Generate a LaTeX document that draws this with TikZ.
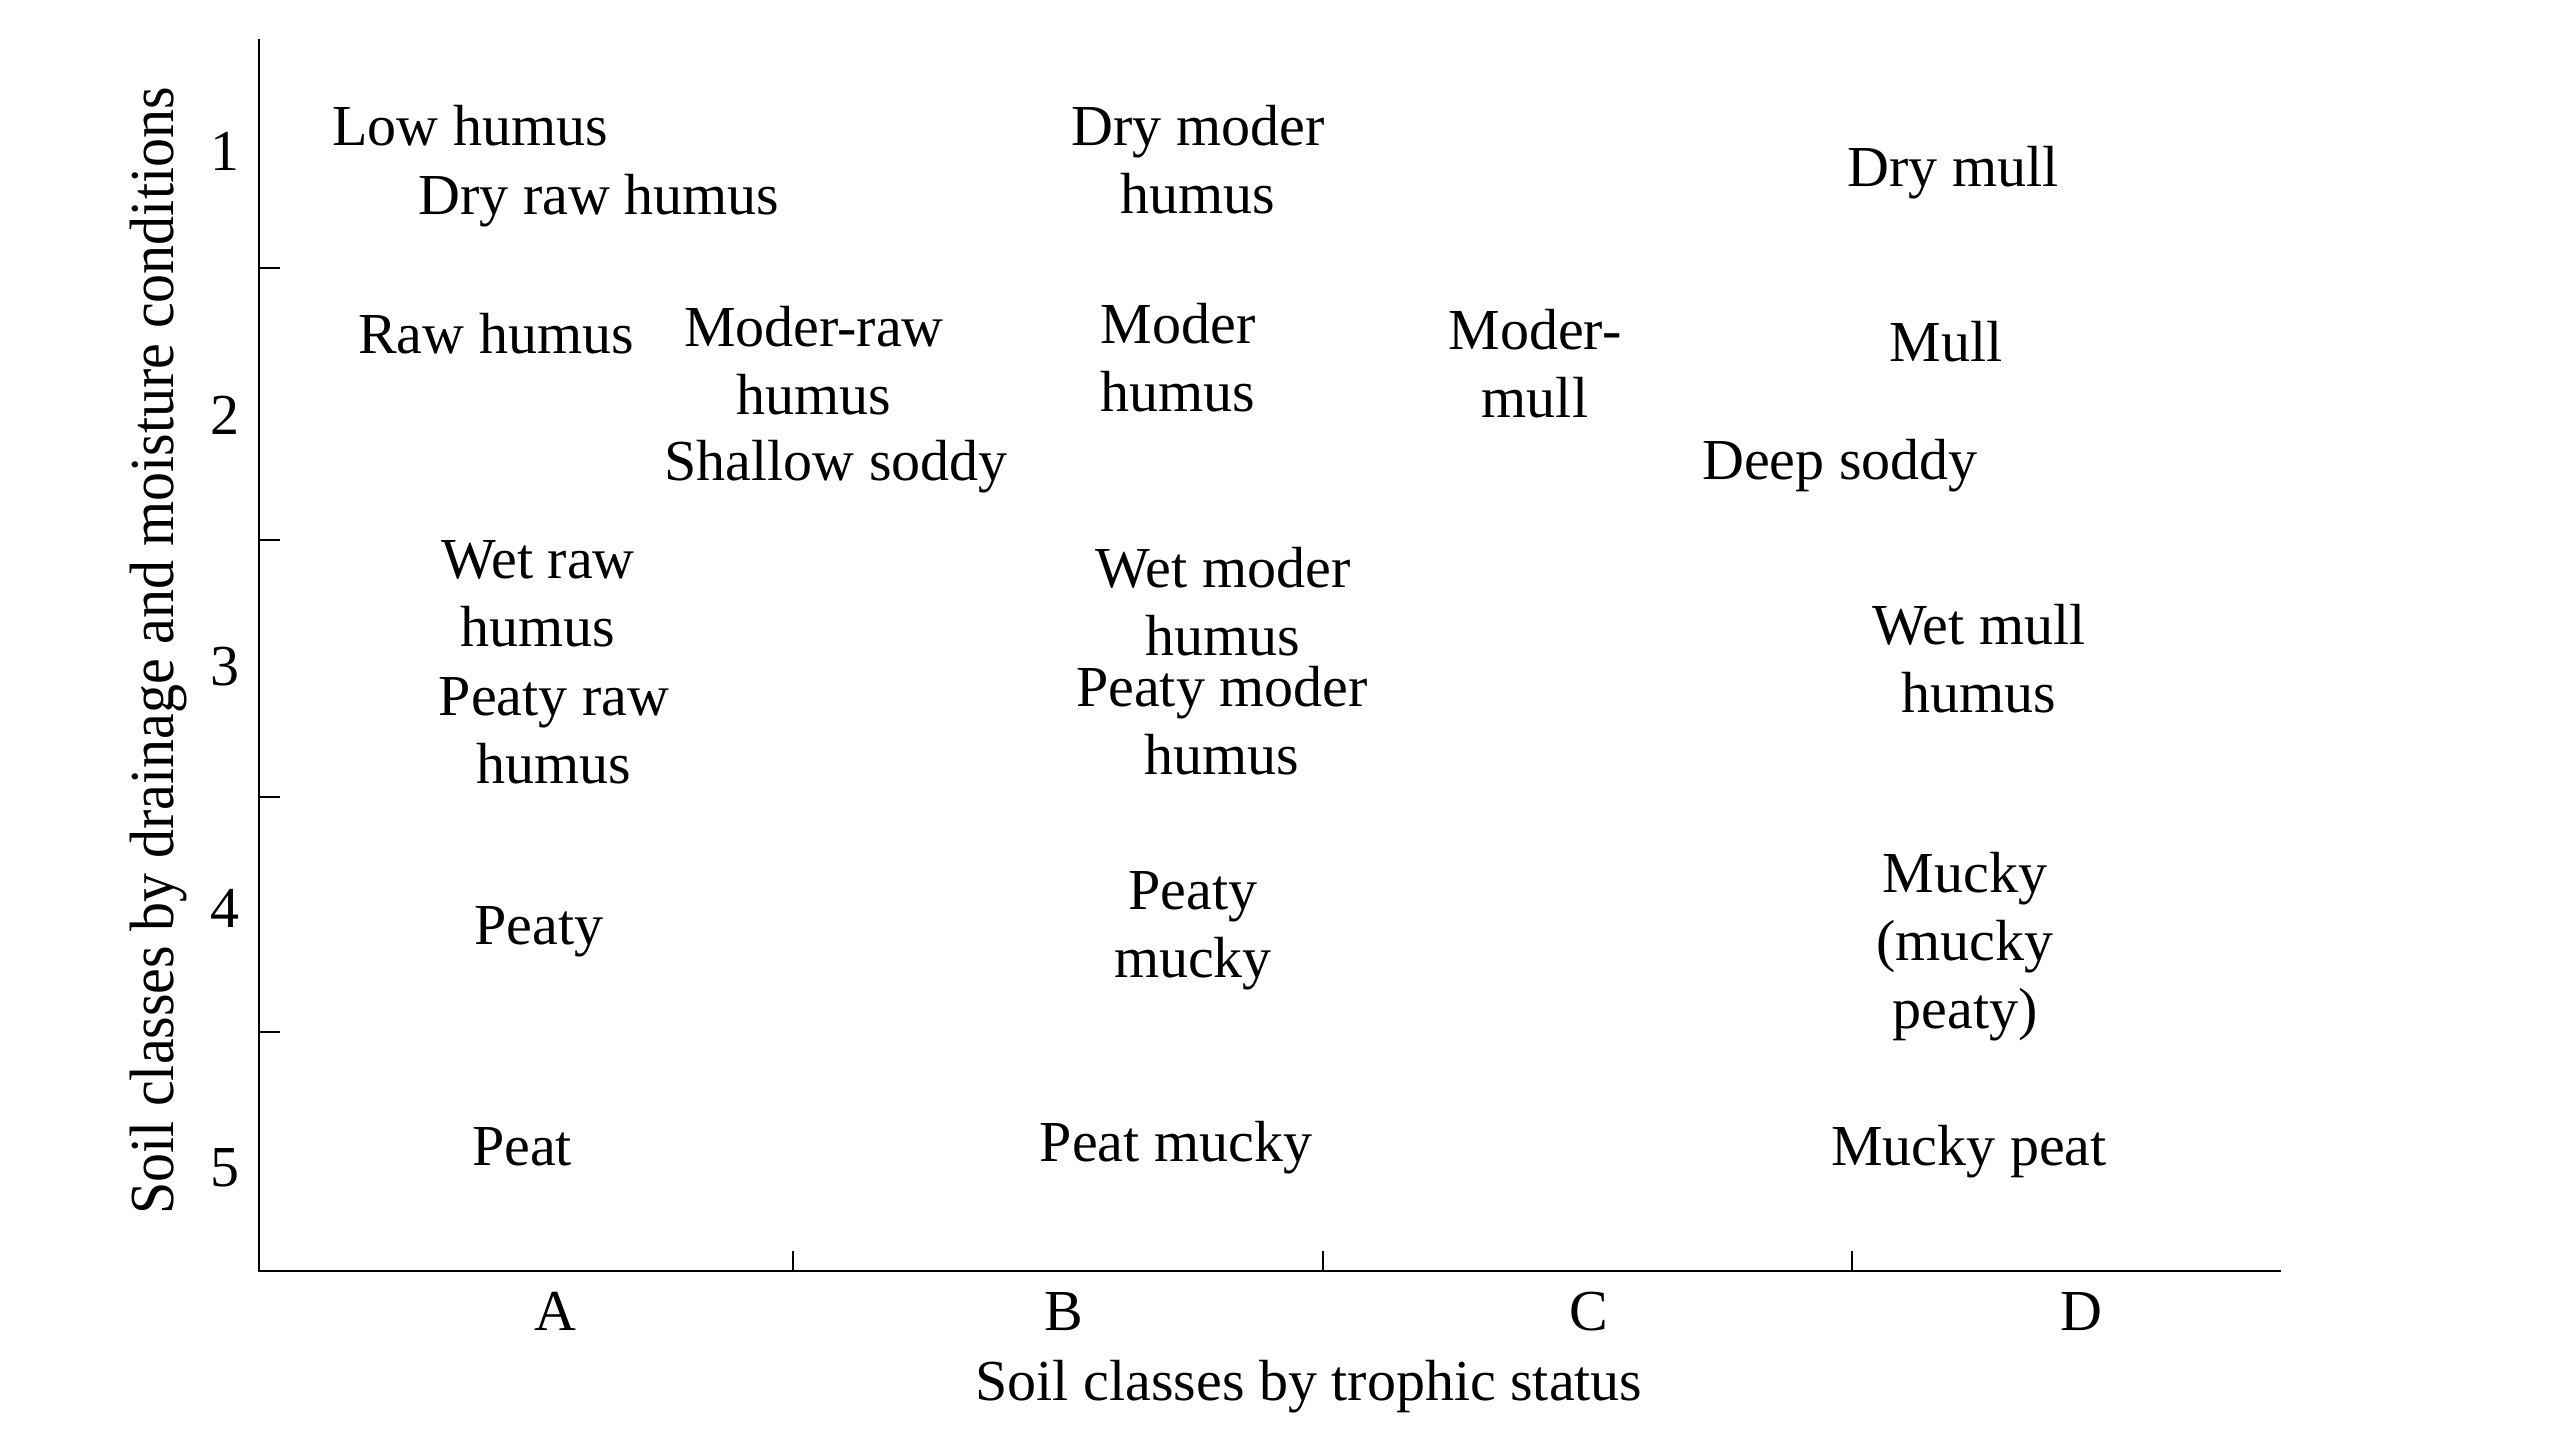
\documentclass[tikz,border=0pt]{standalone}
\usepackage{fontspec}
\setmainfont{Liberation Serif}
\newcommand\lab[1]{\begin{tabular}[t]{@{}c@{}}#1\end{tabular}}
\tikzset{
  lbl/.style={inner sep=0pt, anchor=base, font=\fontsize{58}{68}\selectfont},
  axisline/.style={line width=2.5pt, black},
  tick/.style={line width=2.2pt, black}
}
\begin{document}
\begin{tikzpicture}[x=1pt,y=-1pt]
\useasboundingbox (0,0) rectangle (2560,1455);
% axes
\coordinate (top) at (259,39);
\coordinate (O) at (259,1271);
\coordinate (right) at (2281,1271);
\draw[axisline] (top) -- (O) -- (right);
% y ticks
\foreach \yy in {268,540,797,1032} \draw[tick] (259,\yy) -- (280,\yy);
% x ticks
\foreach \xx in {793,1323,1852} \draw[tick] (\xx,1271) -- (\xx,1251);
% y numbers
\node[lbl] (y1) at (225,171) {1};
\node[lbl] (y2) at (225,434) {2};
\node[lbl] (y3) at (225,685) {3};
\node[lbl] (y4) at (225,927) {4};
\node[lbl] (y5) at (225,1186) {5};
% x letters
\node[lbl] (xA) at (555,1330) {A};
\node[lbl] (xB) at (1064,1330) {B};
\node[lbl] (xC) at (1589,1330) {C};
\node[lbl] (xD) at (2081,1330) {D};
% axis titles
\node[lbl] (xtitle) at (1309,1400) {Soil classes by trophic status};
\node[lbl, rotate=90] (ytitle) at (173,651) {\scalebox{1}[1.08]{Soil classes by drainage and moisture conditions}};
% row 1
\node[lbl] (lowhumus) at (470,146) {Low humus};
\node[lbl] (dryraw) at (599,215) {Dry raw humus};
\node[lbl] (drymoder) at (1198,146) {\lab{Dry moder\\humus}};
\node[lbl] (drymull) at (1953,187) {Dry mull};
% row 2
\node[lbl] (rawhumus) at (496,353) {Raw humus};
\node[lbl] (moderraw) at (814,346) {\lab{Moder-raw\\humus}};
\node[lbl] (shallow) at (836,480) {Shallow soddy};
\node[lbl] (moder) at (1178,344) {\lab{Moder\\humus}};
\node[lbl] (modermull) at (1535,349) {\lab{Moder-\\mull}};
\node[lbl] (mull) at (1946,361) {Mull};
\node[lbl] (deep) at (1840,479) {Deep soddy};
% row 3
\node[lbl] (wetraw) at (538,578) {\lab{Wet raw\\humus}};
\node[lbl] (peatyraw) at (554,715) {\lab{Peaty raw\\humus}};
\node[lbl] (wetmoder) at (1223,587) {\lab{Wet moder\\humus}};
\node[lbl] (peatymoder) at (1222,706) {\lab{Peaty moder\\humus}};
\node[lbl] (wetmull) at (1979,644) {\lab{Wet mull\\humus}};
% row 4
\node[lbl] (peatyA) at (539,944) {Peaty};
\node[lbl] (peatymucky) at (1193,909) {\lab{Peaty\\mucky}};
\node[lbl] (mucky) at (1965,892) {\lab{Mucky\\(mucky\\peaty)}};
% row 5
\node[lbl] (peat) at (522,1165) {Peat};
\node[lbl] (peatmucky) at (1176,1161) {Peat mucky};
\node[lbl] (muckypeat) at (1969,1165) {Mucky peat};
\end{tikzpicture}
\end{document}
